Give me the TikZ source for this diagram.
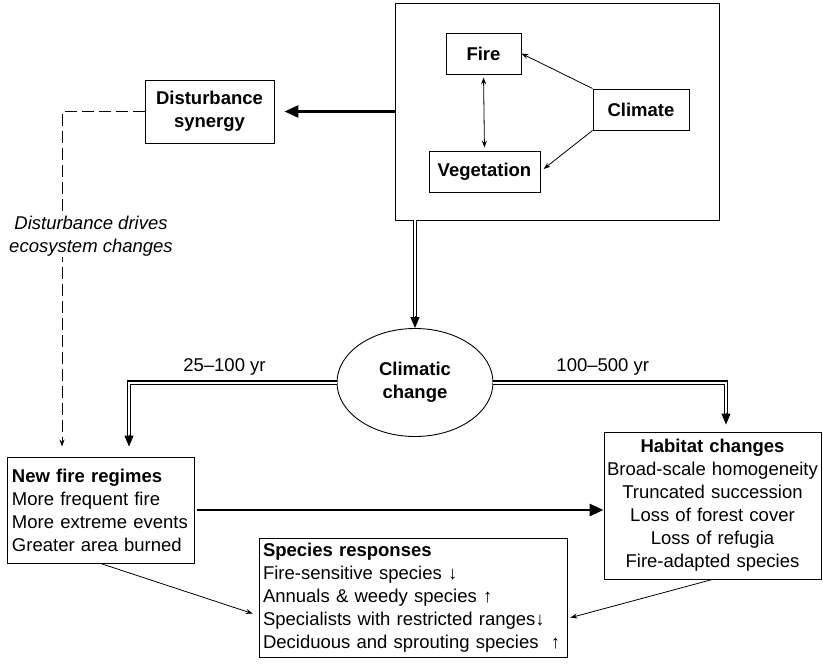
\documentclass[tikz,border=0pt]{standalone}
\usepackage{fontspec}
\setmainfont{Liberation Sans}
\usetikzlibrary{arrows.meta,shapes.geometric}
\newcommand\figfont{\fontsize{18.5}{23}\selectfont}

\begin{document}
\begin{tikzpicture}[x=1pt, y=-1pt, font=\figfont,
    >={Stealth[length=7pt,width=5pt]},
    box/.style={draw, line width=0.9pt, inner sep=2pt, align=center, font=\figfont\bfseries},
    listbox/.style={draw, line width=0.9pt, inner sep=5pt},
    thinarrow/.style={->, line width=0.8pt},
    heavy/.style={-{Triangle[length=14pt,width=12pt]}, line width=2.8pt},
    dbl/.style={double, double distance=2pt, line width=1.2pt},
    dbltip/.style={-{Triangle[length=11pt,width=9pt]}, line width=1pt},
    dashline/.style={-{Stealth[length=7pt,width=5pt]}, line width=0.9pt, dash pattern=on 12pt off 5pt}]
    \useasboundingbox (0,0) rectangle (823,666);

    % top frame: climate, fire and vegetation
    \node[draw, line width=0.9pt, minimum width=324pt, minimum height=217pt] (frame) at (557,111.5) {};
    \node[box, minimum width=75pt, minimum height=41pt] (fire) at (483.5,53.5) {Fire};
    \node[box, minimum width=96pt, minimum height=41pt] (climate) at (641,109.5) {Climate};
    \node[box, minimum width=111pt, minimum height=41pt] (veg) at (484.5,171.5) {Vegetation};

    \draw[thinarrow] (climate.north west) -- (fire.east);
    \draw[thinarrow, shorten >=4pt] (climate.south west) -- (veg.east);
    \draw[thinarrow, <->, shorten <=3pt, shorten >=3pt] (fire.south) -- (veg.north);

    \node[box, minimum width=129pt, minimum height=63pt] (synergy) at (209.5,111.5) {Disturbance\\synergy};
    \draw[heavy, shorten >=10pt] (frame.west) -- (synergy.east);

    \node[ellipse, draw, line width=0.9pt, minimum width=156pt, minimum height=108pt,
          align=center, font=\figfont\bfseries] (cc) at (415,382.5) {Climatic\\change};

    % lower boxes
    \node[listbox, text width=177pt, minimum height=106pt, align=left] (newfire) at (100.5,510)
        {\textbf{New fire regimes}\\More frequent fire\\More extreme events\\Greater area burned};
    \node[listbox, inner sep=1pt, text width=215pt, minimum height=147pt, align=center] (habitat) at (712.5,505.5)
        {\textbf{Habitat changes}\\Broad-scale homogeneity\\Truncated succession\\Loss of forest cover\\Loss of refugia\\Fire-adapted species};
    \node[listbox, inner sep=4pt, text width=300pt, minimum height=119pt, align=left] (species) at (413,597.5)
        {\textbf{Species responses}\\Fire-sensitive species ↓\\Annuals \& weedy species ↑\\Specialists with restricted ranges↓\\Deciduous and sprouting species\ \ ↑};

    % climatic change pathways
    \coordinate (lbend) at (129,382.5);
    \coordinate (rbend) at (726,382.5);
    \coordinate (ltip) at (lbend |- newfire.north);
    \coordinate (rtip) at (rbend |- habitat.north);

    \draw[dbl] (cc.north |- frame.south) -- ([yshift=10pt]cc.north);
    \draw[dbltip] ([yshift=12pt]cc.north) -- (cc.north);

    \draw[dbl] (cc.west) -- node[above=3pt, pos=0.54] {25--100 yr} (lbend) -- ([yshift=20pt]ltip);
    \draw[dbltip] ([yshift=22pt]ltip) -- ([yshift=10pt]ltip);

    \draw[dbl] (cc.east) -- node[above=3pt, pos=0.47] {100--500 yr} (rbend) -- ([yshift=17pt]rtip);
    \draw[dbltip] ([yshift=19pt]rtip) -- ([yshift=7pt]rtip);

    % disturbance feedback
    \coordinate (dbend) at (62,111.5);
    \draw[dashline, shorten >=10pt] (synergy.west) -- (dbend)
        -- node[pos=0.36, xshift=29pt, fill=white, inner sep=1pt, align=center, font=\figfont\itshape]
           {Disturbance drives\\ecosystem changes} (dbend |- newfire.north);

    \draw[heavy, shorten <=3pt] (newfire.east) -- (newfire.east -| habitat.west);
    \draw[thinarrow, shorten <=1pt, shorten >=6pt] (newfire.south) -- ([yshift=-18pt]species.west);
    \draw[thinarrow, shorten >=3pt] (habitat.south) -- ([yshift=-21pt]species.east);
\end{tikzpicture}
\end{document}
